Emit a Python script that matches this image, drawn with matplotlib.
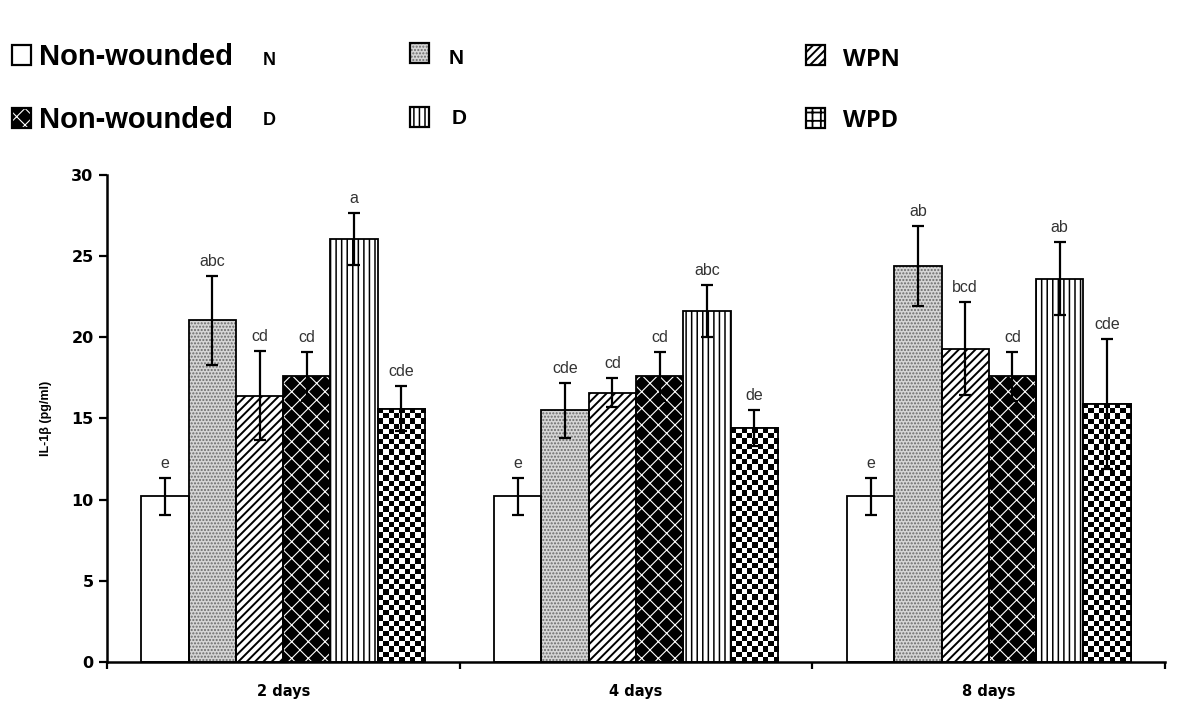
import matplotlib
matplotlib.use('Agg')
import matplotlib.pyplot as plt
import numpy as np
from matplotlib.patches import Rectangle

# data
days = ['2 days', '4 days', '8 days']
groups = ['Non-wounded N', 'N', 'WPN', 'Non-wounded D', 'D', 'WPD']

nw_n = [10.2, 10.2, 10.2]
n_vals = [21.05, 15.5, 24.4]
wpn = [16.4, 16.6, 19.3]
nw_d = [17.6, 17.6, 17.6]
d_vals = [26.05, 21.65, 23.6]
wpd = [15.6, 14.4, 15.9]

nw_n_err = [1.15, 1.15, 1.15]
n_err = [2.75, 1.7, 2.45]
wpn_err = [2.75, 0.9, 2.85]
nw_d_err = [1.5, 1.5, 1.5]
d_err = [1.6, 1.6, 2.25]
wpd_err = [1.4, 1.1, 4.0]

nw_n_lab = ['e', 'e', 'e']
n_lab = ['abc', 'cde', 'ab']
wpn_lab = ['cd', 'cd', 'bcd']
nw_d_lab = ['cd', 'cd', 'cd']
d_lab = ['a', 'abc', 'ab']
wpd_lab = ['cde', 'de', 'cde']

values = [nw_n, n_vals, wpn, nw_d, d_vals, wpd]
errors = [nw_n_err, n_err, wpn_err, nw_d_err, d_err, wpd_err]
letters = [nw_n_lab, n_lab, wpn_lab, nw_d_lab, d_lab, wpd_lab]

# face, hatch colour, hatch, hatch line width
styles = [
    ('white', 'black', None, 1.3),
    ('#d6d6d6', '#6a6a6a', '.....', 1.0),
    ('white', 'black', '////', 1.4),
    ('black', 'white', 'xx', 0.8),
    ('white', 'black', '|||', 1.1),
    ('white', 'black', 'checker', 1.3),
]

fig = plt.figure(figsize=(12, 7.19), dpi=100)
ax = fig.add_axes([0.089, 0.0793, 0.882, 0.6773])

x = np.arange(len(days))
width = 0.134
all_bars = []
for i, (vals, errs, labs, st) in enumerate(zip(values, errors, letters, styles)):
    face, hcol, hatch, hlw = st
    plt.rcParams['hatch.linewidth'] = hlw
    pos = x + (i - 2.5) * width
    if hatch == 'checker':
        bars = ax.bar(pos, vals, width, color='white', edgecolor='black',
                      linewidth=1.3, zorder=2)
    else:
        ax.bar(pos, vals, width, color=face, edgecolor=hcol, hatch=hatch,
               linewidth=0, zorder=2)
        bars = ax.bar(pos, vals, width, fill=False, edgecolor='black',
                      linewidth=1.3, zorder=3)
    all_bars.append((bars, hatch))
    ax.errorbar(pos, vals, yerr=errs, fmt='none', ecolor='black',
                elinewidth=1.6, capsize=4, capthick=1.6, zorder=4)
    for p, v, e, t in zip(pos, vals, errs, labs):
        ax.annotate(t, xy=(p, v + e), xytext=(0, 5), textcoords='offset points',
                    ha='center', va='bottom', fontsize=11.5, color='#333333',
                    family='Liberation Sans')

ax.set_xlim(-0.5, 2.5)
ax.set_ylim(0, 30)

# checkerboard fill for the WPD bars
for bars, hatch in all_bars:
    if hatch != 'checker':
        continue
    for b in bars:
        ext = b.get_window_extent()
        nx = max(1, int(round(ext.width / 5.2)))
        ny = max(1, int(round(ext.height / 5.2)))
        arr = np.indices((ny, nx)).sum(axis=0) % 2
        im = ax.imshow(arr, cmap='gray', vmin=0, vmax=1, aspect='auto',
                       interpolation='nearest', zorder=2.5,
                       extent=(b.get_x(), b.get_x() + b.get_width(), 0, b.get_height()))
        im.set_clip_path(b)
        ax.add_patch(Rectangle((b.get_x(), 0), b.get_width(), b.get_height(),
                               fill=False, edgecolor='black', linewidth=1.3, zorder=3))

ax.set_xlim(-0.5, 2.5)
ax.set_ylim(0, 30)

ax.spines['top'].set_visible(False)
ax.spines['right'].set_visible(False)
for s in ['left', 'bottom']:
    ax.spines[s].set_linewidth(1.8)

ax.set_yticks(np.arange(0, 31, 5))
ax.tick_params(axis='y', direction='out', length=6, width=1.6, labelsize=11.5)
ax.set_xticks(x)
ax.set_xticklabels(days)
ax.tick_params(axis='x', which='major', length=0, pad=16, labelsize=10.5)
ax.set_xticks([-0.5, 0.5, 1.5, 2.5], minor=True)
ax.tick_params(axis='x', which='minor', direction='out', length=5, width=1.6)
for lab in ax.get_yticklabels() + ax.get_xticklabels():
    lab.set_fontweight('bold')
ax.set_ylabel('IL-1β (pg/ml)', fontsize=9, fontweight='bold',
              family='Liberation Sans', labelpad=14)

# legend drawn by hand, as in the reference
W, H = 1200.0, 719.0

def fx(px):
    return px / W

def fy(py):
    return 1 - py / H

swatches = [
    (12, 45, 0), (12, 108, 3),
    (410, 43, 1), (410, 107, 4),
    (806, 45, 2), (806, 108, 5),
]
for sx, sy, k in swatches:
    face, hcol, hatch, hlw = styles[k]
    if hatch == 'checker':
        face, hcol, hatch = 'white', 'black', '++'
    plt.rcParams['hatch.linewidth'] = hlw
    fig.patches.append(Rectangle((fx(sx), fy(sy + 20)), fx(19), 20 / H,
                                 facecolor=face, edgecolor=hcol, hatch=hatch,
                                 linewidth=0, transform=fig.transFigure))
    fig.patches.append(Rectangle((fx(sx), fy(sy + 20)), fx(19), 20 / H,
                                 fill=False, edgecolor='black', linewidth=1.6,
                                 transform=fig.transFigure))

big = ['Liberation Sans Narrow', 'Liberation Sans', 'DejaVu Sans']
fig.text(fx(39), fy(65), 'Non-wounded', fontsize=21, fontweight='bold', family=big, va='baseline')
fig.text(fx(39), fy(128), 'Non-wounded', fontsize=21, fontweight='bold', family=big, va='baseline')
fig.text(fx(263), fy(65), 'N', fontsize=13, fontweight='bold', family='Liberation Sans', va='baseline')
fig.text(fx(263), fy(125), 'D', fontsize=13, fontweight='bold', family='Liberation Sans', va='baseline')
fig.text(fx(449), fy(64), 'N', fontsize=15, fontweight='bold', family='Liberation Sans', va='baseline')
fig.text(fx(452), fy(124), 'D', fontsize=15, fontweight='bold', family='Liberation Sans', va='baseline')
fig.text(fx(843), fy(66), 'WPN', fontsize=17, fontweight='bold', family='Open Sans', va='baseline')
fig.text(fx(843), fy(127), 'WPD', fontsize=17, fontweight='bold', family='Open Sans', va='baseline')

fig.savefig('out.png', dpi=100, facecolor='white')
